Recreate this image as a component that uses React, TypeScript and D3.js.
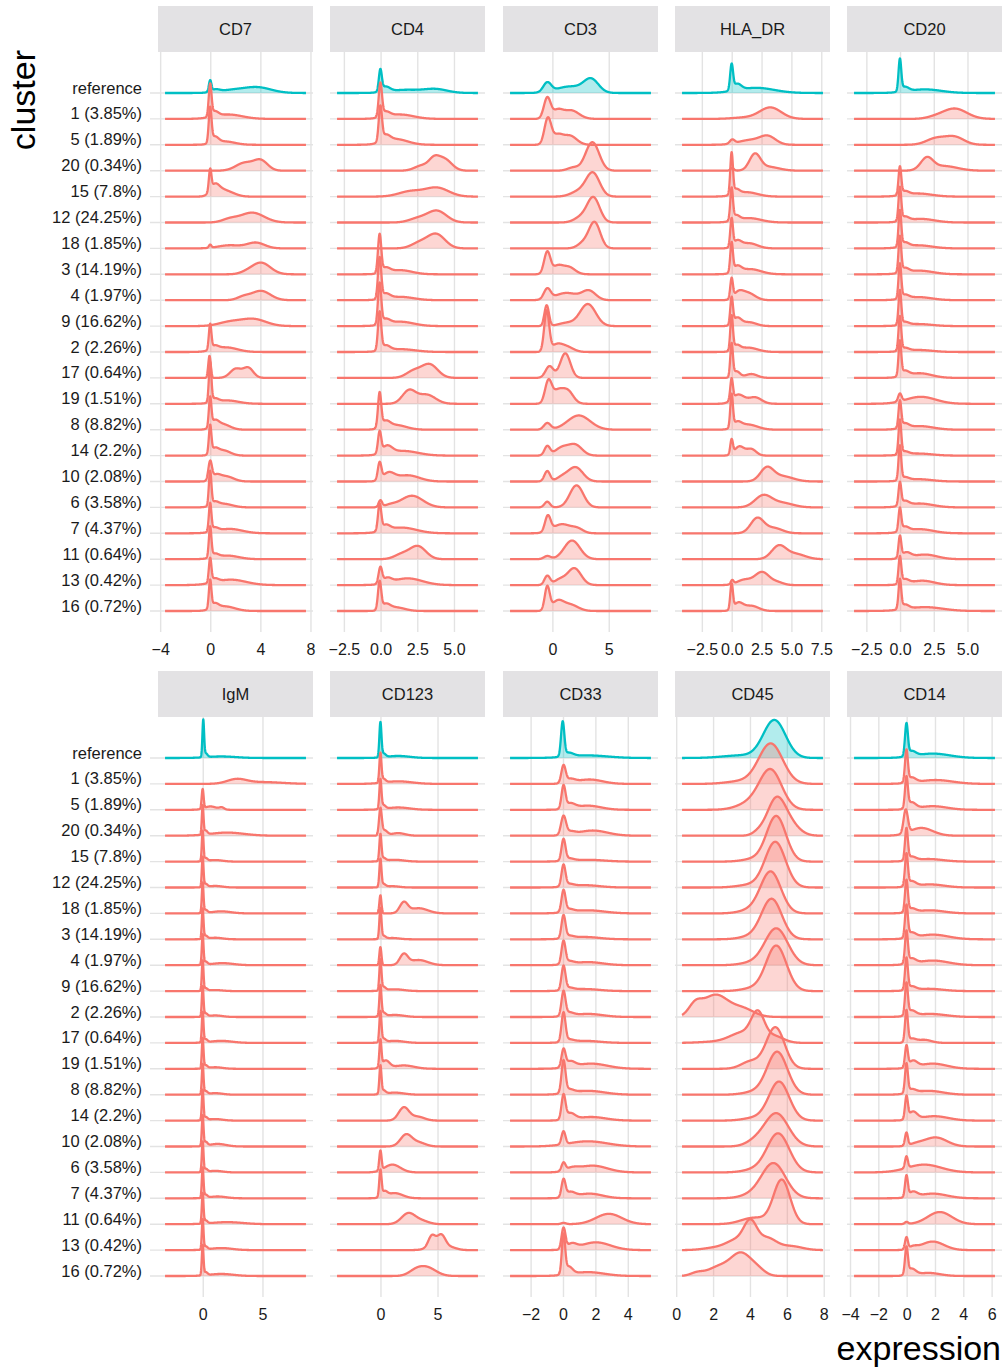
import React from "react";
import * as d3 from "d3";

// Each ridge is a sum of smooth bumps: [centre, spread, height in row units]
type Bump = [number, number, number];

const clusters = [
  "reference", "1 (3.85%)", "5 (1.89%)", "20 (0.34%)", "15 (7.8%)", "12 (24.25%)",
  "18 (1.85%)", "3 (14.19%)", "4 (1.97%)", "9 (16.62%)", "2 (2.26%)", "17 (0.64%)",
  "19 (1.51%)", "8 (8.82%)", "14 (2.2%)", "10 (2.08%)", "6 (3.58%)", "7 (4.37%)",
  "11 (0.64%)", "13 (0.42%)", "16 (0.72%)",
];

const topMarkers = ["CD7", "CD4", "CD3", "HLA_DR", "CD20"];
const bottomMarkers = ["IgM", "CD123", "CD33", "CD45", "CD14"];

// observed expression range per marker
const cd7Range: [number, number] = [-3.65, 7.6];
const cd4Range: [number, number] = [-3.0, 6.6];
const cd3Range: [number, number] = [-3.8, 8.7];
const hladrRange: [number, number] = [-4.2, 7.6];
const cd20Range: [number, number] = [-3.45, 7.0];
const igmRange: [number, number] = [-3.2, 8.6];
const cd123Range: [number, number] = [-3.85, 8.5];
const cd33Range: [number, number] = [-3.3, 5.4];
const cd45Range: [number, number] = [0.29, 7.93];
const cd14Range: [number, number] = [-3.75, 6.2];

// axis breaks per marker
const cd7Ticks = [-4, 0, 4, 8];
const cd4Ticks = [-2.5, 0, 2.5, 5];
const cd3Ticks = [0, 5];
const hladrTicks = [-2.5, 0, 2.5, 5, 7.5];
const cd20Ticks = [-2.5, 0, 2.5, 5];
const igmTicks = [0, 5];
const cd123Ticks = [0, 5];
const cd33Ticks = [-2, 0, 2, 4];
const cd45Ticks = [0, 2, 4, 6, 8];
const cd14Ticks = [-4, -2, 0, 2, 4, 6];

const cd7: Bump[][] = [
  [[-0.05, 0.1, 0.42], [0.35, 0.35, 0.1], [1.6, 1.0, 0.1], [3.7, 1.1, 0.22]],
  [[-0.05, 0.11, 1.2], [0.3, 0.3, 0.2], [1.4, 1.1, 0.17]],
  [[-0.05, 0.11, 1.3], [0.3, 0.3, 0.25], [1.1, 0.8, 0.13]],
  [[2.7, 0.7, 0.3], [4.0, 0.55, 0.38]],
  [[-0.05, 0.1, 0.8], [0.3, 0.35, 0.35], [0.9, 0.6, 0.25], [1.8, 0.5, 0.06]],
  [[1.5, 0.6, 0.12], [3.3, 0.95, 0.38]],
  [[-0.05, 0.1, 0.12], [1.5, 0.9, 0.12], [3.6, 0.7, 0.22]],
  [[2.8, 0.5, 0.05], [4.0, 0.75, 0.45]],
  [[2.6, 0.5, 0.12], [4.0, 0.75, 0.36]],
  [[1.5, 0.9, 0.15], [3.4, 1.0, 0.27]],
  [[-0.05, 0.1, 0.95], [0.3, 0.3, 0.15], [1.2, 0.9, 0.18]],
  [[-0.1, 0.1, 0.85], [2.0, 0.45, 0.35], [3.0, 0.4, 0.38]],
  [[-0.05, 0.1, 1.5], [0.3, 0.3, 0.15], [1.3, 0.9, 0.13]],
  [[-0.05, 0.1, 1.1], [0.3, 0.3, 0.25], [0.9, 0.6, 0.22]],
  [[-0.05, 0.1, 1.05], [0.3, 0.3, 0.22], [1.0, 0.55, 0.2]],
  [[-0.05, 0.14, 0.7], [0.4, 0.35, 0.2], [1.2, 0.6, 0.2]],
  [[-0.05, 0.1, 1.3], [0.3, 0.3, 0.15], [1.0, 0.7, 0.14]],
  [[-0.05, 0.1, 1.05], [0.3, 0.3, 0.15], [1.5, 1.0, 0.17]],
  [[-0.05, 0.1, 1.15], [0.3, 0.3, 0.15], [1.3, 0.9, 0.14]],
  [[-0.05, 0.1, 0.9], [0.3, 0.3, 0.15], [1.6, 1.2, 0.21]],
  [[-0.05, 0.1, 1.05], [0.3, 0.3, 0.2], [1.1, 0.8, 0.18]],
];

const cd4: Bump[][] = [
  [[-0.05, 0.1, 0.8], [0.3, 0.3, 0.2], [1.6, 1.0, 0.12], [3.7, 0.8, 0.15]],
  [[-0.05, 0.11, 1.25], [0.3, 0.3, 0.2], [1.3, 0.9, 0.17]],
  [[-0.05, 0.11, 1.3], [0.3, 0.3, 0.25], [1.0, 0.8, 0.22]],
  [[2.8, 0.5, 0.2], [3.6, 0.35, 0.35], [4.3, 0.5, 0.45]],
  [[2.0, 0.8, 0.2], [3.8, 0.8, 0.34]],
  [[2.5, 0.6, 0.15], [3.8, 0.65, 0.45]],
  [[2.6, 0.55, 0.2], [3.75, 0.6, 0.55]],
  [[-0.1, 0.11, 1.45], [0.3, 0.3, 0.2], [1.3, 0.8, 0.16]],
  [[-0.1, 0.11, 1.55], [0.3, 0.3, 0.2], [1.3, 0.9, 0.13]],
  [[-0.1, 0.11, 1.55], [0.3, 0.3, 0.2], [1.3, 0.9, 0.17]],
  [[-0.1, 0.11, 1.45], [0.3, 0.3, 0.2], [1.3, 1.0, 0.11]],
  [[2.2, 0.5, 0.25], [3.3, 0.55, 0.52]],
  [[1.9, 0.45, 0.5], [3.1, 0.6, 0.35]],
  [[-0.1, 0.11, 1.3], [0.3, 0.3, 0.25], [1.0, 0.7, 0.18]],
  [[-0.1, 0.11, 0.8], [0.4, 0.35, 0.3], [1.5, 1.0, 0.18]],
  [[-0.1, 0.12, 0.65], [0.5, 0.4, 0.3], [1.8, 0.8, 0.24]],
  [[-0.05, 0.12, 0.25], [0.6, 0.4, 0.08], [2.1, 0.75, 0.45]],
  [[-0.1, 0.11, 1.0], [0.3, 0.3, 0.22], [1.4, 1.0, 0.22]],
  [[1.4, 0.5, 0.18], [2.5, 0.55, 0.5]],
  [[-0.05, 0.12, 0.6], [0.4, 0.3, 0.2], [1.8, 1.0, 0.26]],
  [[-0.1, 0.11, 1.05], [0.3, 0.3, 0.22], [1.0, 0.6, 0.14]],
];

const cd3: Bump[][] = [
  [[-0.5, 0.35, 0.36], [1.5, 1.2, 0.25], [3.4, 0.65, 0.5]],
  [[-0.5, 0.3, 0.8], [0.4, 0.45, 0.3], [1.6, 0.7, 0.33]],
  [[-0.45, 0.3, 1.0], [0.4, 0.45, 0.35], [1.5, 0.6, 0.35]],
  [[1.8, 0.5, 0.12], [3.5, 0.6, 1.1]],
  [[2.3, 0.7, 0.2], [3.55, 0.6, 0.9]],
  [[2.5, 0.6, 0.2], [3.6, 0.55, 0.95]],
  [[2.7, 0.5, 0.2], [3.7, 0.5, 1.0]],
  [[-0.5, 0.28, 0.85], [0.4, 0.45, 0.3], [1.4, 0.55, 0.28]],
  [[-0.5, 0.3, 0.4], [1.2, 1.0, 0.28], [3.2, 0.6, 0.35]],
  [[-0.55, 0.2, 0.8], [1.2, 0.7, 0.12], [3.1, 0.7, 0.85]],
  [[-0.55, 0.22, 1.55], [0.3, 0.5, 0.25], [1.2, 0.6, 0.2]],
  [[-0.3, 0.35, 0.45], [1.1, 0.45, 0.95]],
  [[-0.4, 0.3, 0.85], [0.4, 0.45, 0.45], [1.3, 0.5, 0.5]],
  [[-0.5, 0.3, 0.25], [2.3, 1.0, 0.55]],
  [[-0.5, 0.25, 0.35], [0.8, 0.6, 0.3], [2.0, 0.6, 0.4]],
  [[-0.5, 0.25, 0.4], [0.8, 0.5, 0.15], [2.0, 0.65, 0.55]],
  [[-0.5, 0.25, 0.22], [2.1, 0.6, 0.85]],
  [[-0.45, 0.25, 0.6], [0.8, 0.8, 0.35], [2.2, 0.5, 0.15]],
  [[-0.5, 0.3, 0.12], [1.7, 0.7, 0.72]],
  [[-0.5, 0.25, 0.35], [0.6, 0.5, 0.2], [1.9, 0.6, 0.65]],
  [[-0.5, 0.22, 0.9], [0.4, 0.5, 0.35], [1.5, 0.7, 0.25]],
];

const hladr: Bump[][] = [
  [[-0.05, 0.12, 0.95], [0.4, 0.35, 0.25], [2.0, 1.5, 0.2]],
  [[1.0, 1.0, 0.05], [3.2, 0.9, 0.44]],
  [[0, 0.2, 0.15], [1.5, 1.0, 0.18], [3.0, 0.65, 0.3]],
  [[0, 0.15, 0.1], [1.9, 0.45, 0.6], [3.0, 0.9, 0.15]],
  [[-0.05, 0.11, 1.55], [0.3, 0.3, 0.2], [1.2, 0.9, 0.17]],
  [[-0.05, 0.11, 1.2], [0.3, 0.3, 0.2], [1.4, 1.0, 0.17]],
  [[-0.05, 0.11, 1.05], [0.4, 0.35, 0.25], [1.4, 0.7, 0.2]],
  [[-0.05, 0.11, 1.1], [0.4, 0.35, 0.25], [1.5, 0.9, 0.2]],
  [[-0.05, 0.11, 0.75], [0.5, 0.4, 0.25], [1.3, 0.6, 0.28]],
  [[-0.05, 0.11, 1.0], [0.4, 0.35, 0.3], [1.4, 0.6, 0.15]],
  [[-0.05, 0.11, 1.3], [0.35, 0.3, 0.2], [1.3, 0.8, 0.17]],
  [[-0.05, 0.11, 1.25], [0.35, 0.3, 0.25], [1.6, 0.5, 0.15]],
  [[-0.05, 0.11, 0.8], [0.5, 0.5, 0.35], [1.9, 0.55, 0.25]],
  [[-0.05, 0.11, 1.25], [0.4, 0.35, 0.22], [1.3, 0.8, 0.2]],
  [[-0.05, 0.11, 0.55], [0.6, 0.4, 0.35], [1.6, 0.4, 0.25]],
  [[2.9, 0.55, 0.5], [4.2, 0.9, 0.2]],
  [[2.6, 0.7, 0.45], [4.2, 0.9, 0.17]],
  [[2.1, 0.55, 0.58], [3.5, 0.7, 0.2]],
  [[3.9, 0.6, 0.5], [5.3, 0.8, 0.2]],
  [[0, 0.12, 0.15], [1.0, 0.6, 0.2], [2.5, 0.6, 0.5], [3.8, 0.5, 0.1]],
  [[-0.05, 0.11, 0.95], [0.5, 0.4, 0.3], [1.6, 0.6, 0.2]],
];

const cd20: Bump[][] = [
  [[-0.05, 0.1, 1.2], [0.3, 0.3, 0.18], [1.8, 1.2, 0.14]],
  [[2.5, 0.6, 0.05], [4.0, 0.9, 0.4]],
  [[2.6, 0.7, 0.24], [4.0, 0.7, 0.3]],
  [[1.95, 0.45, 0.45], [3.2, 1.0, 0.18]],
  [[-0.05, 0.1, 1.05], [0.3, 0.3, 0.15], [1.3, 1.0, 0.12]],
  [[-0.05, 0.1, 1.25], [0.3, 0.3, 0.17], [1.5, 1.0, 0.14]],
  [[-0.05, 0.1, 1.35], [0.3, 0.3, 0.17], [1.3, 1.0, 0.12]],
  [[-0.05, 0.1, 1.35], [0.3, 0.3, 0.18], [1.4, 1.0, 0.14]],
  [[-0.05, 0.1, 1.3], [0.3, 0.3, 0.15], [1.3, 1.0, 0.12]],
  [[-0.05, 0.1, 1.3], [0.3, 0.3, 0.12], [1.3, 1.0, 0.08]],
  [[-0.05, 0.1, 1.3], [0.3, 0.3, 0.12], [1.3, 1.0, 0.08]],
  [[-0.05, 0.1, 1.3], [0.3, 0.3, 0.2], [1.4, 0.9, 0.18]],
  [[-0.05, 0.13, 0.3], [1.5, 1.1, 0.27]],
  [[-0.05, 0.1, 1.0], [0.3, 0.3, 0.18], [1.4, 1.0, 0.14]],
  [[-0.05, 0.1, 1.3], [0.3, 0.3, 0.12], [1.3, 1.0, 0.08]],
  [[-0.05, 0.1, 1.3], [0.3, 0.3, 0.12], [1.3, 1.0, 0.09]],
  [[-0.05, 0.1, 0.85], [0.3, 0.3, 0.18], [1.4, 1.0, 0.15]],
  [[-0.05, 0.1, 0.85], [0.3, 0.3, 0.18], [1.4, 1.0, 0.16]],
  [[-0.05, 0.1, 0.8], [0.4, 0.35, 0.22], [1.8, 0.9, 0.18]],
  [[-0.05, 0.1, 1.0], [0.3, 0.3, 0.18], [1.6, 0.9, 0.17]],
  [[-0.05, 0.1, 1.1], [0.3, 0.3, 0.18], [1.8, 1.3, 0.15]],
];

const igm: Bump[][] = [
  [[0, 0.07, 1.4], [0.2, 0.15, 0.15], [1.5, 1.2, 0.06]],
  [[2.8, 0.8, 0.17], [5.0, 1.6, 0.07]],
  [[-0.05, 0.08, 0.75], [0.6, 0.5, 0.13], [1.55, 0.2, 0.08]],
  [[-0.05, 0.07, 1.1], [0.2, 0.15, 0.15], [2.0, 1.4, 0.12]],
  [[-0.05, 0.07, 1.15], [0.2, 0.15, 0.12], [1.0, 0.6, 0.06]],
  [[-0.05, 0.07, 1.15], [0.2, 0.15, 0.12], [1.0, 0.6, 0.06]],
  [[-0.05, 0.07, 1.15], [0.2, 0.15, 0.12], [1.5, 0.8, 0.08]],
  [[-0.05, 0.07, 1.15], [0.2, 0.15, 0.12], [1.0, 0.6, 0.06]],
  [[-0.05, 0.07, 1.15], [0.2, 0.15, 0.12], [1.6, 0.9, 0.08]],
  [[-0.05, 0.07, 1.15], [0.2, 0.15, 0.1], [1.0, 0.6, 0.04]],
  [[-0.05, 0.07, 1.15], [0.2, 0.15, 0.12], [1.0, 0.6, 0.06]],
  [[-0.05, 0.07, 1.15], [0.2, 0.15, 0.12], [1.5, 0.9, 0.08]],
  [[-0.05, 0.07, 1.15], [0.2, 0.15, 0.12], [1.0, 0.6, 0.06]],
  [[-0.05, 0.07, 1.15], [0.2, 0.15, 0.12], [1.0, 0.6, 0.06]],
  [[-0.05, 0.07, 1.15], [0.2, 0.15, 0.12], [1.0, 0.6, 0.06]],
  [[-0.05, 0.07, 1.15], [0.2, 0.15, 0.15], [1.2, 0.7, 0.1]],
  [[-0.05, 0.07, 1.15], [0.2, 0.15, 0.12], [1.0, 0.6, 0.06]],
  [[-0.05, 0.07, 1.15], [0.2, 0.15, 0.12], [1.2, 0.7, 0.07]],
  [[-0.05, 0.07, 1.15], [0.2, 0.15, 0.12], [2.0, 1.3, 0.08]],
  [[-0.05, 0.07, 1.15], [0.2, 0.15, 0.12], [1.5, 0.9, 0.08]],
  [[-0.05, 0.07, 1.15], [0.2, 0.15, 0.12], [1.5, 1.0, 0.08]],
];

const cd123: Bump[][] = [
  [[-0.05, 0.09, 1.3], [0.2, 0.2, 0.15], [1.5, 1.0, 0.08]],
  [[-0.05, 0.09, 1.1], [0.2, 0.2, 0.15], [1.5, 1.2, 0.1]],
  [[-0.05, 0.09, 1.1], [0.2, 0.2, 0.15], [1.5, 1.0, 0.09]],
  [[-0.05, 0.12, 1.0], [0.3, 0.25, 0.2], [1.5, 0.6, 0.1]],
  [[-0.05, 0.09, 1.0], [0.2, 0.2, 0.12], [1.2, 0.8, 0.07]],
  [[-0.05, 0.09, 1.05], [0.2, 0.2, 0.12], [1.0, 0.6, 0.05]],
  [[-0.05, 0.09, 0.7], [2.0, 0.35, 0.4], [3.3, 0.8, 0.2]],
  [[-0.05, 0.09, 1.15], [0.2, 0.2, 0.12], [1.0, 0.6, 0.05]],
  [[-0.05, 0.09, 0.7], [2.0, 0.35, 0.4], [3.3, 0.8, 0.2]],
  [[-0.05, 0.09, 1.15], [0.2, 0.2, 0.14], [1.2, 0.8, 0.07]],
  [[-0.05, 0.09, 1.15], [0.2, 0.2, 0.14], [1.2, 0.8, 0.08]],
  [[-0.05, 0.09, 1.15], [0.2, 0.2, 0.14], [1.2, 0.8, 0.08]],
  [[-0.05, 0.09, 1.0], [0.4, 0.35, 0.3], [2.0, 0.9, 0.13]],
  [[-0.05, 0.09, 1.05], [0.2, 0.2, 0.14], [1.2, 0.8, 0.08]],
  [[2.0, 0.45, 0.5], [3.2, 0.6, 0.15]],
  [[2.2, 0.5, 0.45], [3.3, 0.6, 0.15]],
  [[-0.05, 0.1, 0.75], [1.0, 0.7, 0.3]],
  [[-0.05, 0.1, 1.0], [0.3, 0.25, 0.2], [1.2, 0.7, 0.2]],
  [[2.4, 0.6, 0.42], [3.6, 0.6, 0.12]],
  [[4.45, 0.3, 0.4], [5.3, 0.35, 0.42], [4.9, 0.7, 0.2], [6.2, 0.5, 0.08]],
  [[3.0, 0.6, 0.15], [4.0, 0.8, 0.33]],
];

const cd33: Bump[][] = [
  [[-0.05, 0.1, 1.3], [0.3, 0.3, 0.15], [1.5, 1.2, 0.1]],
  [[0, 0.13, 0.65], [0.4, 0.3, 0.15], [1.6, 0.8, 0.17]],
  [[0, 0.12, 0.85], [0.4, 0.3, 0.2], [1.5, 0.8, 0.16]],
  [[0, 0.15, 0.7], [0.4, 0.3, 0.12], [1.8, 0.9, 0.2]],
  [[0, 0.12, 0.8], [0.3, 0.3, 0.1], [1.5, 1.0, 0.07]],
  [[0, 0.12, 0.8], [0.3, 0.3, 0.1], [1.3, 0.9, 0.09]],
  [[0, 0.12, 0.8], [0.3, 0.3, 0.12], [1.5, 1.0, 0.12]],
  [[0, 0.12, 0.85], [0.3, 0.3, 0.1], [1.3, 0.9, 0.09]],
  [[0, 0.12, 0.85], [0.3, 0.3, 0.12], [1.5, 0.9, 0.12]],
  [[0, 0.12, 0.9], [0.3, 0.3, 0.1], [1.3, 0.9, 0.08]],
  [[0, 0.12, 0.9], [0.3, 0.3, 0.14], [1.5, 0.9, 0.12]],
  [[0, 0.12, 1.1], [0.3, 0.3, 0.1], [1.3, 0.9, 0.08]],
  [[0, 0.12, 0.65], [0.4, 0.3, 0.22], [1.7, 1.0, 0.2]],
  [[0, 0.12, 1.2], [0.3, 0.3, 0.15], [1.5, 1.0, 0.15]],
  [[0, 0.12, 0.9], [0.4, 0.3, 0.25], [1.7, 0.9, 0.14]],
  [[0, 0.12, 0.5], [1.5, 1.2, 0.2]],
  [[0, 0.12, 0.3], [0.5, 0.4, 0.12], [1.8, 0.9, 0.26]],
  [[0, 0.12, 0.65], [0.4, 0.3, 0.2], [1.6, 0.8, 0.18]],
  [[0, 0.15, 0.05], [2.8, 0.8, 0.4]],
  [[0, 0.12, 0.8], [0.5, 0.3, 0.2], [2.0, 0.9, 0.3]],
  [[0, 0.1, 1.45], [0.3, 0.25, 0.3], [1.5, 1.0, 0.15]],
];

const cd45: Bump[][] = [
  [[5.3, 0.6, 1.45], [3.5, 1.0, 0.1]],
  [[5.1, 0.65, 1.55], [3.5, 0.8, 0.1]],
  [[5.1, 0.6, 1.5], [4.0, 0.7, 0.25]],
  [[5.4, 0.5, 1.4], [6.2, 0.5, 0.35], [4.4, 0.3, 0.1]],
  [[5.4, 0.52, 1.75], [4.2, 0.6, 0.1]],
  [[5.35, 0.55, 1.75], [4.0, 0.7, 0.1]],
  [[5.1, 0.55, 1.6], [4.0, 0.6, 0.12]],
  [[5.15, 0.55, 1.55], [4.0, 0.6, 0.1]],
  [[5.4, 0.62, 1.42], [4.0, 0.6, 0.08]],
  [[5.4, 0.55, 1.75], [4.1, 0.6, 0.1]],
  [[1.0, 0.35, 0.4], [2.1, 0.7, 0.85], [3.6, 0.6, 0.3]],
  [[4.4, 0.35, 1.0], [3.6, 0.7, 0.4], [5.3, 0.5, 0.25], [2.0, 0.8, 0.04]],
  [[5.35, 0.5, 1.6], [4.0, 0.5, 0.28]],
  [[5.45, 0.55, 1.65], [4.2, 0.6, 0.1]],
  [[5.55, 0.55, 1.5], [4.2, 0.6, 0.1]],
  [[5.4, 0.65, 1.28], [4.2, 0.5, 0.15]],
  [[5.5, 0.6, 1.5], [4.2, 0.6, 0.1]],
  [[5.25, 0.65, 1.35], [4.0, 0.6, 0.1]],
  [[5.7, 0.45, 1.7], [4.2, 0.7, 0.25]],
  [[4.0, 0.35, 0.9], [3.3, 0.6, 0.4], [4.9, 0.5, 0.45], [6.2, 0.6, 0.15], [2.0, 0.6, 0.08]],
  [[3.5, 0.55, 0.85], [2.3, 0.6, 0.35], [1.1, 0.35, 0.12], [4.4, 0.4, 0.2]],
];

const cd14: Bump[][] = [
  [[-0.05, 0.1, 1.2], [0.3, 0.3, 0.2], [1.8, 1.2, 0.17]],
  [[-0.05, 0.1, 1.2], [0.3, 0.3, 0.2], [2.0, 1.2, 0.15]],
  [[-0.05, 0.1, 1.15], [0.3, 0.3, 0.25], [1.8, 1.0, 0.14]],
  [[-0.1, 0.15, 0.9], [1.0, 0.8, 0.3]],
  [[-0.05, 0.1, 1.2], [0.3, 0.3, 0.15], [1.5, 1.0, 0.1]],
  [[-0.05, 0.1, 1.2], [0.3, 0.3, 0.2], [1.6, 1.0, 0.12]],
  [[-0.05, 0.1, 1.2], [0.3, 0.3, 0.15], [1.6, 1.0, 0.12]],
  [[-0.05, 0.1, 1.2], [0.3, 0.3, 0.2], [1.8, 1.1, 0.18]],
  [[-0.05, 0.1, 1.2], [0.3, 0.3, 0.2], [1.8, 1.1, 0.18]],
  [[-0.05, 0.1, 1.2], [0.3, 0.3, 0.15], [1.5, 1.0, 0.09]],
  [[-0.05, 0.1, 1.2], [0.3, 0.3, 0.2], [1.6, 1.1, 0.12]],
  [[-0.05, 0.1, 1.2], [0.3, 0.3, 0.15], [1.2, 0.5, 0.12]],
  [[-0.05, 0.1, 0.8], [0.4, 0.3, 0.25], [1.8, 1.0, 0.2]],
  [[-0.05, 0.1, 1.1], [0.3, 0.3, 0.15], [1.5, 1.0, 0.15]],
  [[-0.05, 0.1, 0.85], [0.4, 0.3, 0.3], [1.9, 1.0, 0.17]],
  [[-0.05, 0.1, 0.5], [0.6, 0.5, 0.08], [2.0, 0.8, 0.35]],
  [[-0.05, 0.1, 0.45], [1.2, 1.2, 0.3]],
  [[-0.05, 0.1, 0.8], [0.4, 0.3, 0.2], [1.8, 1.0, 0.18]],
  [[-0.05, 0.12, 0.08], [2.3, 0.85, 0.47]],
  [[-0.05, 0.1, 0.45], [0.4, 0.3, 0.1], [1.8, 0.8, 0.33]],
  [[-0.05, 0.1, 1.0], [0.3, 0.3, 0.25], [1.5, 0.8, 0.12]],
];

type Panel = {
  name: string;
  range: [number, number];
  ticks: number[];
  decimals: number;
  ridges: Bump[][];
};

const topPanels: Panel[] = [
  { name: topMarkers[0], range: cd7Range, ticks: cd7Ticks, decimals: 0, ridges: cd7 },
  { name: topMarkers[1], range: cd4Range, ticks: cd4Ticks, decimals: 1, ridges: cd4 },
  { name: topMarkers[2], range: cd3Range, ticks: cd3Ticks, decimals: 0, ridges: cd3 },
  { name: topMarkers[3], range: hladrRange, ticks: hladrTicks, decimals: 1, ridges: hladr },
  { name: topMarkers[4], range: cd20Range, ticks: cd20Ticks, decimals: 1, ridges: cd20 },
];
const bottomPanels: Panel[] = [
  { name: bottomMarkers[0], range: igmRange, ticks: igmTicks, decimals: 0, ridges: igm },
  { name: bottomMarkers[1], range: cd123Range, ticks: cd123Ticks, decimals: 0, ridges: cd123 },
  { name: bottomMarkers[2], range: cd33Range, ticks: cd33Ticks, decimals: 0, ridges: cd33 },
  { name: bottomMarkers[3], range: cd45Range, ticks: cd45Ticks, decimals: 0, ridges: cd45 },
  { name: bottomMarkers[4], range: cd14Range, ticks: cd14Ticks, decimals: 0, ridges: cd14 },
];

const W = 1005;
const H = 1369;
const FONT = "'Liberation Sans', Arial, Helvetica, sans-serif";
const COL_X = [158, 330, 503, 675, 847];
const PANEL_W = 155;
const STRIP_H = 46;
const ROW_STEP = 25.9;
const GRID = "#e3e3e3";
const STRIP_FILL = "#e3e2e4";
const REF_COLOR = "#00BFC4";
const CLUSTER_COLOR = "#F8766D";
const SAMPLES = 700;

const fmtTick = (v: number, decimals: number) => {
  const s = Math.abs(v).toFixed(decimals);
  return v < 0 ? "\u2212" + s : s;
};

function density(bumps: Bump[], x: number) {
  let s = 0;
  for (const [m, sd, h] of bumps) s += h * Math.exp(-((x - m) * (x - m)) / (2 * sd * sd));
  return s;
}

function rowScale(top: number) {
  const firstBase = top + 87;
  return d3
    .scalePoint<string>()
    .domain(clusters)
    .range([firstBase, firstBase + ROW_STEP * (clusters.length - 1)]);
}

function PanelBlock({ panel, col, top }: { panel: Panel; col: number; top: number }) {
  const x0 = COL_X[col];
  const [lo, hi] = panel.range;
  const pad = (hi - lo) * 0.05;
  const x = d3.scaleLinear().domain([lo - pad, hi + pad]).range([x0, x0 + PANEL_W]);
  const panelTop = top + STRIP_H;
  const y = rowScale(top);
  const hScale = d3.scaleLinear().domain([0, 1]).range([0, ROW_STEP]);
  const lastBase = y(clusters[clusters.length - 1]) as number;
  const panelBottom = lastBase + 17;
  const xs = d3.range(SAMPLES + 1).map((i) => lo + ((hi - lo) * i) / SAMPLES);

  return (
    <g>
      <rect x={x0} y={top} width={PANEL_W} height={STRIP_H} fill={STRIP_FILL} />
      <text
        x={x0 + PANEL_W / 2}
        y={top + STRIP_H / 2 + 6}
        textAnchor="middle"
        fontSize={16.5}
        fill="#1a1a1a"
      >
        {panel.name}
      </text>
      {panel.ticks.map((t) => (
        <line
          key={"v" + t}
          x1={x(t)}
          x2={x(t)}
          y1={panelTop}
          y2={panelBottom + 4}
          stroke={GRID}
          strokeWidth={1.4}
        />
      ))}
      {clusters.map((c) => (
        <line
          key={"h" + c}
          x1={col === 0 ? x0 - 8 : x0}
          x2={x0 + PANEL_W}
          y1={y(c)}
          y2={y(c)}
          stroke={GRID}
          strokeWidth={1.4}
        />
      ))}
      {panel.ridges.map((bumps, i) => {
        const base = y(clusters[i]) as number;
        const pts: [number, number][] = xs.map((v) => [v, density(bumps, v)]);
        const area = d3
          .area<[number, number]>()
          .x((d) => x(d[0]))
          .y0(base)
          .y1((d) => base - hScale(d[1]));
        const line = d3
          .line<[number, number]>()
          .x((d) => x(d[0]))
          .y((d) => base - hScale(d[1]));
        const color = i === 0 ? REF_COLOR : CLUSTER_COLOR;
        return (
          <g key={"r" + i}>
            <path d={area(pts) || ""} fill={color} fillOpacity={0.3} />
            <path
              d={line(pts) || ""}
              fill="none"
              stroke={color}
              strokeWidth={2.3}
              strokeLinejoin="round"
            />
          </g>
        );
      })}
      {panel.ticks.map((t) => (
        <text
          key={"t" + t}
          x={x(t)}
          y={panelBottom + 27}
          textAnchor="middle"
          fontSize={16}
          fill="#1a1a1a"
        >
          {fmtTick(t, panel.decimals)}
        </text>
      ))}
    </g>
  );
}

function RowLabels({ top }: { top: number }) {
  const y = rowScale(top);
  return (
    <g>
      {clusters.map((c) => (
        <text key={c} x={142} y={(y(c) as number) + 0.5} textAnchor="end" fontSize={16.5} fill="#1a1a1a">
          {c}
        </text>
      ))}
    </g>
  );
}

export default function App() {
  const topY = 6;
  const bottomY = 671;
  return (
    <svg
      width={W}
      height={H}
      viewBox={`0 0 ${W} ${H}`}
      style={{ position: "absolute", left: 0, top: 0, background: "#fff" }}
      fontFamily={FONT}
    >
      <rect x={0} y={0} width={W} height={H} fill="#fff" />
      <RowLabels top={topY} />
      <RowLabels top={bottomY} />
      {topPanels.map((p, i) => (
        <PanelBlock key={p.name} panel={p} col={i} top={topY} />
      ))}
      {bottomPanels.map((p, i) => (
        <PanelBlock key={p.name} panel={p} col={i} top={bottomY} />
      ))}
      <text transform="translate(35,50) rotate(-90)" textAnchor="end" fontSize={34} fill="#000">
        cluster
      </text>
      <text x={1001} y={1360} textAnchor="end" fontSize={34} fill="#000">
        expression
      </text>
    </svg>
  );
}
